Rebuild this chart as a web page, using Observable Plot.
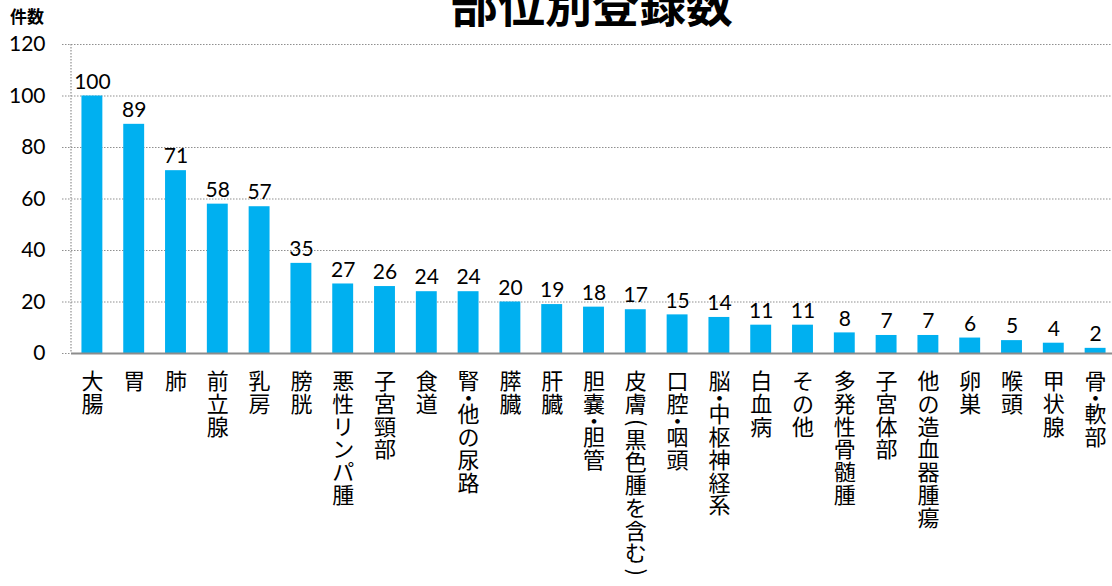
<!DOCTYPE html>
<html><head><meta charset="utf-8">
<script src="https://cdn.jsdelivr.net/npm/d3@7"></script>
<script src="https://cdn.jsdelivr.net/npm/@observablehq/plot@0.6"></script>
<style>
body{margin:0;background:#fff;}
#wrap{position:relative;width:1112px;height:586px;overflow:hidden;background:#fff;}
#title{position:absolute;left:392px;width:400px;text-align:center;top:-22px;font-family:"Noto Sans CJK JP";font-weight:700;font-size:47px;line-height:1;color:#000;white-space:nowrap;}
#ylab{position:absolute;left:10px;top:7px;font-family:"Noto Sans CJK JP";font-weight:700;font-size:17px;line-height:1;color:#000;}
#chart{position:absolute;left:0;top:0;}
</style>
</head><body>
<div id="wrap">
  <div id="chart"></div>
  <div id="title">部位別登録数</div>
  <div id="ylab">件数</div>
</div>
<script>
const categories = ["大腸","胃","肺","前立腺","乳房","膀胱","悪性リンパ腫","子宮頸部","食道","腎・他の尿路","膵臓","肝臓","胆嚢・胆管","皮膚(黒色腫を含む)","口腔・咽頭","脳・中枢神経系","白血病","その他","多発性骨髄腫","子宮体部","他の造血器腫瘍","卵巣","喉頭","甲状腺","骨・軟部"];
const values = [100,89,71,58,57,35,27,26,24,24,20,19,18,17,15,14,11,11,8,7,7,6,5,4,2];
const yTicks = [0,20,40,60,80,100,120];

const data = categories.map((c, i) => ({c, v: values[i]}));

// vertical (tategaki) label layout: one glyph per record, stacked downwards
const LABEL_TOP = 16;      // gap below the axis
const ADV_FULL = 22.75, ADV_DOT = 10.5, ADV_PAREN = 13;
const glyphs = [];
for (const c of categories) {
  let pos = 0;
  for (const ch of Array.from(c)) {
    const adv = ch === "・" ? ADV_DOT : (ch === "(" || ch === ")") ? ADV_PAREN : ADV_FULL;
    const center = pos + adv / 2;
    pos += adv;
    glyphs.push({c, ch, off: Math.round((LABEL_TOP + center + 1.3) * 10) / 10, rot: (ch === "(" || ch === ")") ? 90 : 0});
  }
}
const groups = d3.groups(glyphs, g => g.off + "|" + g.rot);
const labelMarks = groups.map(([key, gs]) =>
  Plot.text(gs, {x: "c", y: () => 0, text: "ch", dy: gs[0].off, rotate: gs[0].rot,
    fontSize: 22, fontFamily: "'Noto Sans CJK JP'", fill: "#000"}));

const leftLine = (index, scales, channels, dims) => {
  return d3.create("svg:line")
    .attr("x1", dims.marginLeft).attr("x2", dims.marginLeft)
    .attr("y1", dims.marginTop).attr("y2", dims.height - dims.marginBottom)
    .attr("stroke", "#8f8f8f").attr("stroke-dasharray", "1.5,1.5").attr("stroke-width", 1.2)
    .node();
};

const svg = Plot.plot({
  width: 1112, height: 586,
  marginLeft: 71, marginRight: 0, marginTop: 44, marginBottom: 233,
  style: {fontFamily: "Lato, 'Noto Sans CJK JP'", fontSize: "21px", color: "#000", background: "#fff"},
  x: {domain: categories, range: [71, 1116], paddingInner: 0.5, paddingOuter: 0.25, round: false, axis: null},
  y: {domain: [0, 120], axis: null},
  marks: [
    Plot.ruleY(yTicks, {y: d => d, stroke: "#8f8f8f", strokeDasharray: "1.5,1.5", strokeWidth: 1.2, insetLeft: -9}),
    leftLine,
    Plot.barY(data, {x: "c", y: "v", fill: "#00B0F0"}),
    Plot.ruleY([0], {stroke: "#8c8c8c", strokeWidth: 2}),
    Plot.text(data, {x: "c", y: "v", text: d => String(d.v), dy: -14, fontSize: 21, fill: "#000"}),
    Plot.text(yTicks, {y: d => d, text: d => String(d), frameAnchor: "left", textAnchor: "end", dx: -26, fontSize: 21, fill: "#000"}),
    ...labelMarks
  ]
});

document.getElementById("chart").appendChild(svg);
</script>
</body></html>
